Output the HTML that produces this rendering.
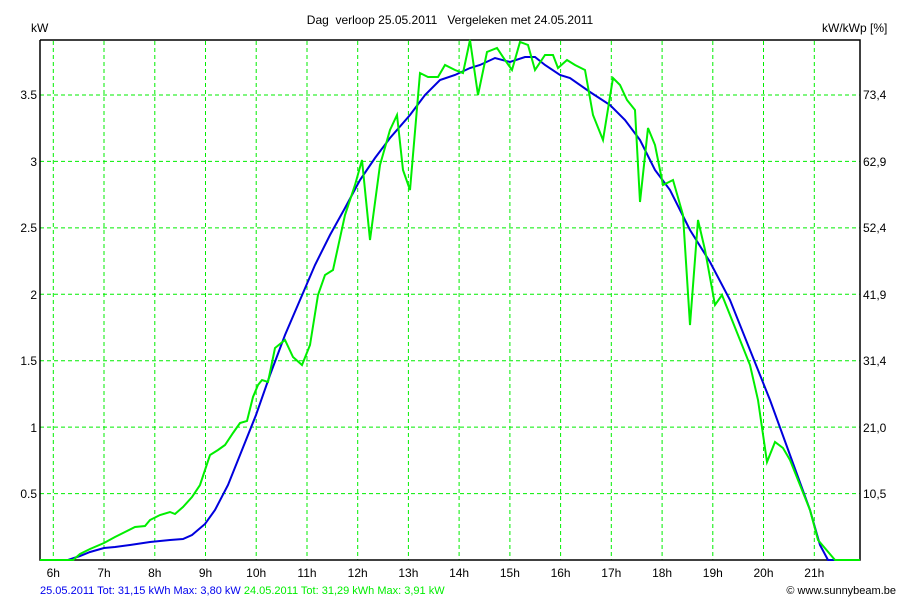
<!DOCTYPE html>
<html><head><meta charset="utf-8"><style>
html,body{margin:0;padding:0;background:#fff;}
svg text{font-family:"Liberation Sans",Arial,sans-serif;}
</style></head><body>
<svg width="900" height="600" viewBox="0 0 900 600" xmlns="http://www.w3.org/2000/svg">
<rect width="900" height="600" fill="#fff"/>
<text x="450" y="24" font-size="12" text-anchor="middle" fill="#000">Dag&#160; verloop 25.05.2011&#160;&#160; Vergeleken met 24.05.2011</text>
<text x="31" y="32" font-size="12" fill="#000">kW</text>
<text x="822" y="32" font-size="12" fill="#000">kW/kWp [%]</text>
<g stroke="#00ee00" stroke-width="1" stroke-dasharray="4,3">
<line x1="53.3" y1="41" x2="53.3" y2="560"/><line x1="104" y1="41" x2="104" y2="560"/><line x1="154.8" y1="41" x2="154.8" y2="560"/><line x1="205.5" y1="41" x2="205.5" y2="560"/><line x1="256.2" y1="41" x2="256.2" y2="560"/><line x1="307" y1="41" x2="307" y2="560"/><line x1="357.7" y1="41" x2="357.7" y2="560"/><line x1="408.4" y1="41" x2="408.4" y2="560"/><line x1="459.1" y1="41" x2="459.1" y2="560"/><line x1="509.9" y1="41" x2="509.9" y2="560"/><line x1="560.6" y1="41" x2="560.6" y2="560"/><line x1="611.3" y1="41" x2="611.3" y2="560"/><line x1="662.1" y1="41" x2="662.1" y2="560"/><line x1="712.8" y1="41" x2="712.8" y2="560"/><line x1="763.5" y1="41" x2="763.5" y2="560"/><line x1="814.3" y1="41" x2="814.3" y2="560"/>
<line x1="40" y1="493.6" x2="860" y2="493.6"/><line x1="40" y1="427.1" x2="860" y2="427.1"/><line x1="40" y1="360.7" x2="860" y2="360.7"/><line x1="40" y1="294.3" x2="860" y2="294.3"/><line x1="40" y1="227.9" x2="860" y2="227.9"/><line x1="40" y1="161.4" x2="860" y2="161.4"/><line x1="40" y1="95" x2="860" y2="95"/>
</g>
<polyline fill="none" stroke="#000" stroke-width="1.5" points="40,40 40,560 860,560 860,40 40,40"/>
<g font-size="12" fill="#000" text-anchor="end">
<text x="37" y="498">0.5</text><text x="37" y="432">1</text><text x="37" y="365">1.5</text><text x="37" y="299">2</text><text x="37" y="232">2.5</text><text x="37" y="166">3</text><text x="37" y="99">3.5</text>
</g>
<g font-size="12" fill="#000">
<text x="863" y="498">10,5</text><text x="863" y="432">21,0</text><text x="863" y="365">31,4</text><text x="863" y="299">41,9</text><text x="863" y="232">52,4</text><text x="863" y="166">62,9</text><text x="863" y="99">73,4</text>
</g>
<g font-size="12" fill="#000" text-anchor="middle">
<text x="53.3" y="577">6h</text><text x="104" y="577">7h</text><text x="154.8" y="577">8h</text><text x="205.5" y="577">9h</text><text x="256.2" y="577">10h</text><text x="307" y="577">11h</text><text x="357.7" y="577">12h</text><text x="408.4" y="577">13h</text><text x="459.1" y="577">14h</text><text x="509.9" y="577">15h</text><text x="560.6" y="577">16h</text><text x="611.3" y="577">17h</text><text x="662.1" y="577">18h</text><text x="712.8" y="577">19h</text><text x="763.5" y="577">20h</text><text x="814.3" y="577">21h</text>
</g>
<text x="40" y="594" font-size="11"><tspan fill="#0000ee">25.05.2011 Tot: 31,15 kWh Max: 3,80 kW </tspan><tspan fill="#00ee00">24.05.2011 Tot: 31,29 kWh Max: 3,91 kW</tspan></text>
<text x="896" y="594" font-size="11" text-anchor="end" fill="#000">© www.sunnybeam.be</text>
<polyline fill="none" stroke="#0000dd" stroke-width="2" points="40,560 68,560 80,556 90,552 104,548 115,547 130,545 150,542 170,540 183,539 192,535 205,524 215,510 228,485 240,455 256,415 270,375 285,335 300,300 315,265 330,235 345,208 360,180 375,158 390,138 410,115 425,95 440,80 455,75 470,68 480,65 495,58 510,62 525,57 535,57 545,65 560,75 570,78 590,92 610,105 625,120 640,140 655,170 670,190 690,230 710,262 730,300 750,350 770,400 790,455 810,510 820,545 828,560 860,560"/>
<polyline fill="none" stroke="#00ee00" stroke-width="2" points="40,560 73,560 80,554 90,549 104,543 115,537 125,532 135,527 145,526 150,520 160,515 170,512 175,514 183,507 192,497 200,485 205,470 210,455 218,450 225,445 233,433 240,423 247,421 253,397 258,385 262,380 268,382 275,348 285,340 293,357 302,365 310,345 318,295 325,275 333,270 345,215 355,185 362,160 370,240 380,165 390,130 397,115 403,170 410,190 420,73 428,77 438,77 445,65 455,70 463,73 470,40 478,95 487,52 497,48 505,60 512,70 520,42 528,45 535,70 545,55 553,55 558,68 567,60 575,65 585,70 593,115 603,140 613,78 620,85 627,100 635,110 640,202 648,128 655,145 663,185 673,180 683,215 690,325 698,220 705,250 715,305 722,295 730,315 740,340 750,365 758,400 767,462 775,442 783,448 790,460 800,485 810,510 818,540 835,560 860,560"/>
</svg>
</body></html>
